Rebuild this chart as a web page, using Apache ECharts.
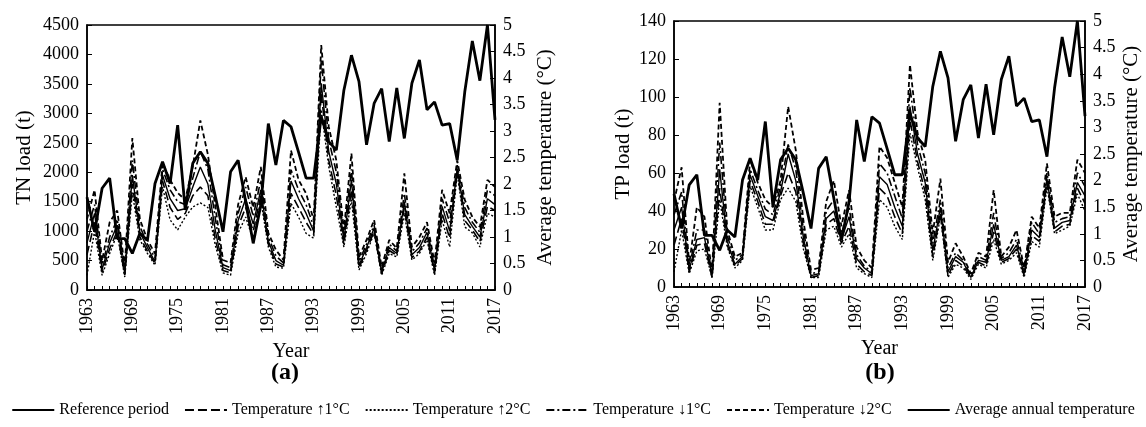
<!DOCTYPE html>
<html>
<head>
<meta charset="utf-8">
<script src="https://cdn.jsdelivr.net/npm/echarts@6/dist/echarts.min.js"></script>
<style>
html, body { margin: 0; padding: 0; background: #fff; }
#chart { width: 1146px; height: 427px; }
</style>
</head>
<body>
<div id="chart"></div>
<script>
// 年份 (x 轴类目)
const years = ['1963','1964','1965','1966','1967','1968','1969','1970','1971','1972',
  '1973','1974','1975','1976','1977','1978','1979','1980','1981','1982',
  '1983','1984','1985','1986','1987','1988','1989','1990','1991','1992',
  '1993','1994','1995','1996','1997','1998','1999','2000','2001','2002',
  '2003','2004','2005','2006','2007','2008','2009','2010','2011','2012',
  '2013','2014','2015','2016','2017'];

// 年平均气温 (两图相同, 右轴)
const avgTemp = [1.75, 1.1, 1.92, 2.11, 0.97, 0.97, 0.69, 1.07, 0.94, 2.01,
  2.42, 2.01, 3.11, 1.51, 2.39, 2.61, 2.39, 1.76, 1.1, 2.23,
  2.45, 1.67, 0.88, 1.6, 3.14, 2.36, 3.2, 3.08, 2.6, 2.11,
  2.11, 3.27, 2.8, 2.64, 3.77, 4.43, 3.93, 2.74, 3.52, 3.8,
  2.8, 3.81, 2.86, 3.9, 4.34, 3.4, 3.55, 3.11, 3.14, 2.45,
  3.74, 4.7, 3.95, 5.0, 3.21];

// (a) TN load (t)
const tnRef = [800, 1300, 350, 800, 1100, 280, 1950, 980, 720, 480,
  1950, 1550, 1350, 1380, 1750, 2090, 1800, 1000, 380, 330,
  1180, 1550, 1120, 1700, 830, 500, 420, 1850, 1550, 1300,
  1000, 3510, 2350, 1800, 850, 1870, 420, 720, 1050, 300,
  720, 620, 1500, 600, 720, 980, 330, 1420, 1000, 2060,
  1280, 1080, 900, 1550, 1450];
const tnUp1 = [600, 1150, 300, 700, 1000, 250, 1800, 900, 660, 450,
  1850, 1400, 1200, 1300, 1600, 1750, 1600, 850, 330, 290,
  1080, 1400, 1000, 1600, 780, 440, 390, 1640, 1400, 1150,
  940, 3340, 2200, 1600, 780, 1700, 380, 670, 1000, 270,
  670, 590, 1400, 550, 660, 900, 290, 1300, 880, 2020,
  1180, 1020, 820, 1420, 1350];
const tnUp2 = [250, 1000, 250, 620, 950, 220, 1650, 850, 620, 420,
  1750, 1190, 1020, 1240, 1410, 1480, 1400, 750, 290, 250,
  970, 1240, 850, 1530, 730, 390, 370, 1470, 1240, 960,
  880, 3060, 2090, 1410, 730, 1530, 340, 620, 970, 250,
  620, 560, 1300, 510, 620, 850, 250, 1190, 730, 1980,
  1070, 970, 730, 1300, 1240];
const tnDown1 = [1000, 1450, 420, 900, 1200, 330, 2200, 1080, 780, 540,
  2050, 1700, 1500, 1450, 1900, 2350, 2050, 1200, 430, 380,
  1300, 1750, 1250, 1870, 900, 580, 460, 2040, 1700, 1450,
  1080, 3900, 2550, 2000, 920, 2050, 480, 780, 1100, 330,
  780, 660, 1640, 650, 800, 1050, 380, 1550, 1150, 2120,
  1400, 1150, 980, 1700, 1600];
const tnDown2 = [1200, 1700, 500, 1150, 1350, 400, 2580, 1200, 850, 620,
  2160, 1870, 1650, 1530, 2100, 2880, 2300, 1400, 510, 460,
  1450, 1920, 1400, 2090, 970, 680, 510, 2370, 1870, 1640,
  1190, 4160, 2770, 2200, 1020, 2320, 560, 850, 1190, 390,
  850, 710, 1980, 730, 900, 1150, 460, 1700, 1300, 2200,
  1530, 1240, 1070, 1870, 1750];

// (b) TP load (t)
const tpRef = [30, 42, 9, 25, 26, 6, 62, 24, 12, 16,
  59, 48, 37, 35, 50, 70, 56, 26, 6, 7,
  36, 40, 25, 37, 15, 10, 7, 58, 54, 42,
  32, 95, 70, 55, 19, 42, 8, 16, 13, 5,
  14, 13, 33, 14, 16, 22, 7, 30, 26, 57,
  31, 34, 35, 55, 48];
const tpUp1 = [22, 36, 8, 22, 23, 5, 52, 22, 11, 15,
  56, 45, 33, 33, 48, 60, 50, 23, 5, 6,
  33, 36, 23, 32, 12, 8, 6, 52, 48, 37,
  28, 88, 66, 50, 16, 39, 6, 14, 11, 5,
  13, 11, 29, 13, 15, 20, 6, 27, 24, 55,
  29, 32, 33, 52, 44];
const tpUp2 = [8, 30, 7, 19, 20, 5, 46, 21, 10, 14,
  53, 42, 30, 30, 46, 52, 45, 20, 5, 5,
  30, 32, 21, 28, 10, 7, 5, 46, 42, 32,
  25, 81, 63, 46, 14, 37, 5, 12, 10, 4,
  12, 10, 25, 12, 14, 18, 5, 24, 21, 53,
  28, 30, 32, 49, 40];
const tpDown1 = [38, 50, 10, 30, 30, 7, 76, 27, 14, 17,
  62, 51, 41, 38, 53, 75, 62, 30, 7, 8,
  40, 46, 28, 42, 17, 11, 8, 65, 60, 48,
  36, 105, 75, 60, 23, 46, 10, 18, 14, 6,
  16, 14, 39, 15, 18, 25, 9, 34, 28, 60,
  34, 36, 37, 60, 53];
const tpDown2 = [45, 63, 12, 42, 37, 8, 97, 30, 16, 18,
  67, 55, 46, 42, 56, 95, 72, 35, 9, 10,
  45, 56, 32, 51, 21, 14, 10, 74, 68, 55,
  42, 117, 81, 67, 28, 57, 13, 23, 16, 7,
  18, 16, 51, 16, 21, 30, 10, 37, 31, 65,
  37, 39, 39, 67, 60];

const FONT = "'Liberation Serif', 'Times New Roman', serif";

const names = ['Reference period', 'Temperature \u21911\u00b0C', 'Temperature \u21912\u00b0C',
  'Temperature \u21931\u00b0C', 'Temperature \u21932\u00b0C', 'Average annual temperature'];

// 线型
const styles = [
  { width: 1.4, type: 'solid' },
  { width: 1.6, type: [9, 4] },
  { width: 1.4, type: [2, 2] },
  { width: 1.6, type: [8, 3, 2, 3] },
  { width: 1.8, type: [5, 3] },
  { width: 2.8, type: 'solid' }
];

function line(name, data, gi, yi, st) {
  return {
    name: name,
    type: 'line',
    xAxisIndex: gi,
    yAxisIndex: yi,
    data: data,
    symbol: 'none',
    itemStyle: { color: '#000' },
    lineStyle: { color: '#000', width: st.width, type: st.type },
    emphasis: { disabled: true }
  };
}

function xAxisFor(gi) {
  return {
    type: 'category', gridIndex: gi, data: years, boundaryGap: false,
    name: 'Year', nameLocation: 'middle', nameGap: 50,
    nameTextStyle: { fontFamily: FONT, fontSize: 20, color: '#000' },
    axisLine: { lineStyle: { color: '#000', width: 1.5 } },
    axisTick: { inside: true, length: 4, interval: 0, lineStyle: { color: '#000' } },
    axisLabel: { interval: 5, rotate: 90, margin: 8, fontFamily: FONT, fontSize: 18, color: '#000' },
    splitLine: { show: false }
  };
}

function yAxisFor(gi, pos, max, interval, name, gap) {
  return {
    type: 'value', gridIndex: gi, position: pos, min: 0, max: max, interval: interval,
    name: name, nameLocation: 'middle', nameRotate: 90, nameGap: gap,
    nameTextStyle: { fontFamily: FONT, fontSize: 21, color: '#000' },
    axisLine: { show: true, lineStyle: { color: '#000', width: 1.5 } },
    axisTick: { show: true, inside: true, length: 5, lineStyle: { color: '#000' } },
    axisLabel: { margin: 8, fontFamily: FONT, fontSize: 18, color: '#000', formatter: v => String(v) },
    splitLine: { show: false }
  };
}

const chart = echarts.init(document.getElementById('chart'));

chart.setOption({
  animation: false,
  backgroundColor: '#fff',
  grid: [
    { left: 87, top: 25, width: 408, height: 265, show: true, borderColor: '#000', borderWidth: 1.5 },
    { left: 674, top: 21, width: 411, height: 266, show: true, borderColor: '#000', borderWidth: 1.5 }
  ],
  xAxis: [xAxisFor(0), xAxisFor(1)],
  yAxis: [
    yAxisFor(0, 'left', 4500, 500, 'TN load (t)', 52),
    yAxisFor(0, 'right', 5, 0.5, 'Average temperature (\u00b0C)', 40),
    yAxisFor(1, 'left', 140, 20, 'TP load (t)', 40),
    yAxisFor(1, 'right', 5, 0.5, 'Average temperature (\u00b0C)', 36)
  ],
  legend: {
    top: 397, left: 'center', itemWidth: 42, itemHeight: 12, itemGap: 15,
    itemStyle: { opacity: 0 },
    textStyle: { fontFamily: FONT, fontSize: 16, color: '#000' },
    data: names
  },
  graphic: [
    { type: 'text', x: 285, y: 373, style: { text: '(a)', fill: '#000', font: "bold 24px 'Liberation Serif'", align: 'center', verticalAlign: 'middle' } },
    { type: 'text', x: 880, y: 373, style: { text: '(b)', fill: '#000', font: "bold 24px 'Liberation Serif'", align: 'center', verticalAlign: 'middle' } }
  ],
  series: [
    line(names[0], tnRef, 0, 0, styles[0]),
    line(names[1], tnUp1, 0, 0, styles[1]),
    line(names[2], tnUp2, 0, 0, styles[2]),
    line(names[3], tnDown1, 0, 0, styles[3]),
    line(names[4], tnDown2, 0, 0, styles[4]),
    line(names[5], avgTemp, 0, 1, styles[5]),
    line(names[0], tpRef, 1, 2, styles[0]),
    line(names[1], tpUp1, 1, 2, styles[1]),
    line(names[2], tpUp2, 1, 2, styles[2]),
    line(names[3], tpDown1, 1, 2, styles[3]),
    line(names[4], tpDown2, 1, 2, styles[4]),
    line(names[5], avgTemp, 1, 3, styles[5])
  ]
});
</script>
</body>
</html>
